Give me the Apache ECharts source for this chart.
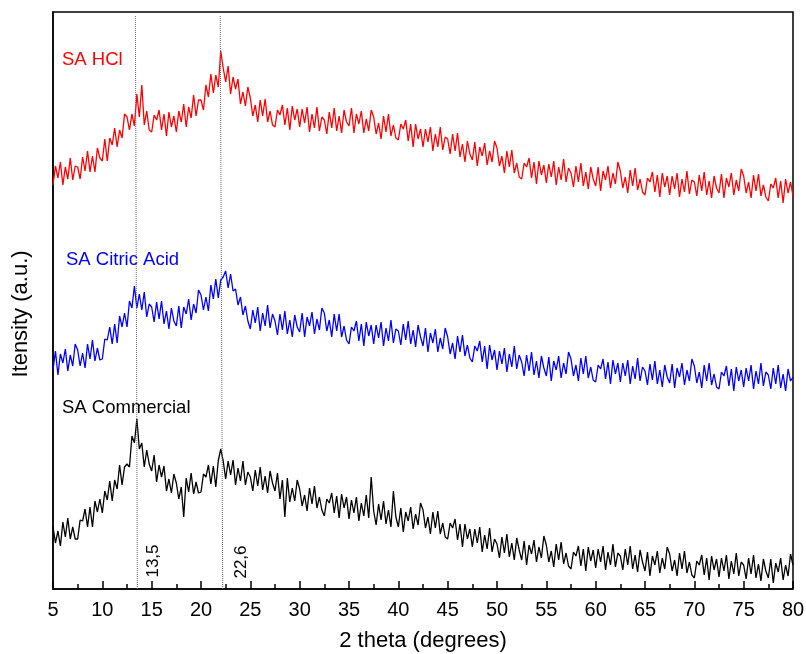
<!DOCTYPE html>
<html><head><meta charset="utf-8">
<script src="https://cdn.jsdelivr.net/npm/echarts@6/dist/echarts.min.js"></script>
<style>html,body{margin:0;padding:0;background:#fff}#c{width:806px;height:654px}</style>
</head><body><div id="c"></div>
<script>
// 2θ sampling: 5° to 80° every 0.25°
const thetaStart = 5, thetaStep = 0.25;
const seriesNames = ['SA HCl', 'SA Citric Acid', 'SA Commercial'];
const peakLabels = ['13,5', '22,6'];
const xTicks = [5,10,15,20,25,30,35,40,45,50,55,60,65,70,75,80];
const xTitle = '2 theta (degrees)';
const yTitle = 'Itensity (a.u.)';

const hcl = [
404,423,411,427,404,422,410,431,409,423,
422,410,432,418,438,417,433,417,441,431,
428,450,428,451,444,461,442,459,451,475,
472,459,475,463,495,472,504,464,478,459,
457,474,469,479,459,475,453,477,462,473,
457,478,467,485,462,482,471,494,473,489,
489,479,504,492,515,496,514,502,538,521,
507,523,495,512,500,510,485,497,483,502,
491,473,484,467,489,473,490,467,478,464,
462,479,474,484,464,481,459,483,469,480,
462,480,466,482,457,475,461,482,458,472,
469,455,477,461,481,458,473,456,479,467,
463,481,456,475,465,478,456,470,458,479,
472,455,466,450,473,457,475,453,464,451,
449,465,460,469,448,465,442,465,450,460,
442,460,447,462,438,455,442,462,439,452,
450,435,455,438,456,432,445,427,448,435,
429,447,423,442,433,446,424,438,427,448,
441,423,433,416,438,422,439,416,426,412,
410,426,422,431,411,427,405,428,414,424,
406,425,412,428,404,422,409,430,407,421,
416,402,423,407,426,403,417,400,422,410,
403,422,398,418,409,423,401,416,405,427,
418,401,412,396,419,403,421,399,410,397,
394,411,407,417,397,414,392,416,402,413,
394,413,400,416,392,410,397,418,395,409,
407,393,414,398,417,394,408,391,413,401,
396,415,391,411,402,416,394,409,398,420,
413,396,407,391,414,398,415,393,404,392,
388,405,401,411,391,408,386,410,396,407,
393];

const citric = [
219,238,214,235,226,240,218,234,223,245,
239,223,236,221,245,230,249,228,241,229,
230,250,249,262,245,265,246,273,262,276,
262,288,281,303,281,295,279,297,272,285,
282,267,287,270,288,265,278,260,281,268,
263,283,261,282,275,290,269,285,276,299,
294,279,292,278,304,290,310,291,309,312,
318,301,315,298,300,284,292,274,283,268,
260,279,266,282,258,276,263,284,261,275,
268,254,275,259,278,255,269,252,274,262,
257,276,252,272,263,277,255,270,259,281,
276,258,269,252,275,258,275,252,263,249,
245,262,258,268,248,265,243,267,253,264,
245,264,251,267,243,261,248,269,246,260,
258,244,265,249,268,245,259,242,264,252,
243,261,237,256,246,260,237,251,240,261,
252,235,246,230,253,237,254,233,244,231,
227,243,238,248,227,243,220,244,229,239,
219,238,225,241,217,235,222,243,220,234,
227,213,234,218,237,214,228,211,233,221,
213,232,208,228,219,233,211,226,215,237,
230,213,224,208,231,215,233,211,222,209,
207,224,220,230,210,227,205,229,215,226,
207,226,213,229,205,223,210,231,208,222,
218,204,225,209,228,205,219,202,224,212,
206,225,201,221,212,226,204,219,208,230,
223,206,217,201,224,208,226,204,215,202,
200,217,213,223,203,220,198,222,208,219,
202,221,208,224,200,218,205,226,203,217,
214,200,221,205,224,201,215,198,220,208,
212];

const commercial = [
62,46,58,43,67,52,71,50,62,50,
50,69,68,80,62,82,62,88,77,90,
76,98,89,108,88,109,100,124,104,122,
125,122,153,146,170,140,146,122,139,125,
118,134,107,124,112,123,98,110,96,115,
106,90,102,72,111,97,116,95,107,96,
97,115,112,124,105,123,102,128,140,128,
110,128,114,129,104,121,108,128,104,117,
112,98,119,103,122,99,113,96,118,106,
98,116,90,109,72,111,87,101,88,109,
100,83,94,78,101,85,103,81,92,79,
73,90,86,96,76,93,71,95,81,92,
70,89,76,92,68,86,73,94,71,112,
78,64,85,69,88,65,79,62,98,72,
62,81,57,77,68,82,60,75,64,86,
79,61,72,55,77,61,78,55,66,52,
50,66,61,70,49,65,42,65,50,60,
42,60,46,62,37,54,40,61,37,50,
45,31,52,36,55,32,46,29,51,39,
29,48,24,44,35,49,27,42,31,53,
44,27,38,22,45,29,47,25,36,23,
20,37,33,43,23,40,18,42,28,39,
21,40,27,43,19,37,24,45,22,36,
33,19,40,24,43,20,34,17,39,27,
18,37,13,33,24,38,16,31,20,42,
35,18,29,13,36,20,38,16,27,14,
11,28,24,34,14,31,9,33,19,30,
12,31,18,34,10,28,15,36,13,27,
24,10,31,15,34,11,25,8,30,18,
11,30,6,26,17,31,9,24,13,35,
24];

// dotted reference lines (2θ at top, 2θ at bottom)
const refLine1 = [[13.35, 573], [13.55, 0]];
const refLine2 = [[21.95, 573], [22.2, 0]];

function pairs(arr){ return arr.map((v,i)=>[thetaStart + i*thetaStep, v]); }

const chart = echarts.init(document.getElementById('c'));
const FONT = 'Liberation Sans, Arial, sans-serif';
chart.setOption({
  animation: false,
  grid: {left: 53, right: 13, top: 12, bottom: 65, containLabel: false, outerBoundsMode: 'none',
    show: true, borderColor: '#000', borderWidth: 1.5, backgroundColor: 'transparent'},
  xAxis: {
    type: 'value', min: 5, max: 80, interval: 5,
    name: xTitle, nameLocation: 'middle', nameGap: 41,
    nameTextStyle: {fontFamily: FONT, fontSize: 22, color: '#000'},
    axisLine: {lineStyle: {color: '#000', width: 1.5}},
    axisTick: {inside: true, length: 8, lineStyle: {color: '#000', width: 1.5}},
    minorTick: {show: true, splitNumber: 2, length: 5, lineStyle: {color: '#000', width: 1.5}},
    axisLabel: {fontFamily: FONT, fontSize: 20, color: '#000', margin: 11,
      formatter: v => xTicks.includes(v) ? String(v) : ''},
    splitLine: {show: false}
  },
  yAxis: {
    type: 'value', min: 0, max: 577,
    axisLine: {show: true, lineStyle: {color: '#000', width: 1.5}},
    axisTick: {show: false}, axisLabel: {show: false}, splitLine: {show: false}
  },
  series: [
    {name: seriesNames[0], type: 'line', data: pairs(hcl), showSymbol: false, symbol: 'none',
     lineStyle: {color: '#ff0000', width: 1.3}, itemStyle: {color: '#ff0000'}},
    {name: seriesNames[1], type: 'line', data: pairs(citric), showSymbol: false, symbol: 'none',
     lineStyle: {color: '#0000ff', width: 1.3}, itemStyle: {color: '#0000ff'}},
    {name: seriesNames[2], type: 'line', data: pairs(commercial), showSymbol: false, symbol: 'none',
     lineStyle: {color: '#000000', width: 1.3}, itemStyle: {color: '#000'},
     markLine: {silent: true, symbol: 'none', label: {show: false},
       lineStyle: {color: '#666', type: 'dotted', width: 1},
       data: [
         [{coord: refLine1[0]}, {coord: refLine1[1]}],
         [{coord: refLine2[0]}, {coord: refLine2[1]}]
       ]}}
  ],
  graphic: [
    {type: 'text', x: 21, y: 314, rotation: Math.PI/2, style: {text: yTitle, fill: '#000', font: '22px ' + FONT, align: 'center', verticalAlign: 'middle'}},
    {type: 'text', x: 62, y: 60, style: {text: seriesNames[0], fill: '#ff0000', font: '18.5px ' + FONT, verticalAlign: 'middle'}},
    {type: 'text', x: 66, y: 260, style: {text: seriesNames[1], fill: '#0000ff', font: '18.5px ' + FONT, verticalAlign: 'middle'}},
    {type: 'text', x: 62, y: 408, style: {text: seriesNames[2], fill: '#000', font: '18.5px ' + FONT, verticalAlign: 'middle'}},
    {type: 'text', x: 153, y: 561, rotation: Math.PI/2, style: {text: peakLabels[0], fill: '#000', font: '17px ' + FONT, align: 'center', verticalAlign: 'middle'}},
    {type: 'text', x: 241, y: 562, rotation: Math.PI/2, style: {text: peakLabels[1], fill: '#000', font: '17px ' + FONT, align: 'center', verticalAlign: 'middle'}}
  ]
});
</script></body></html>
